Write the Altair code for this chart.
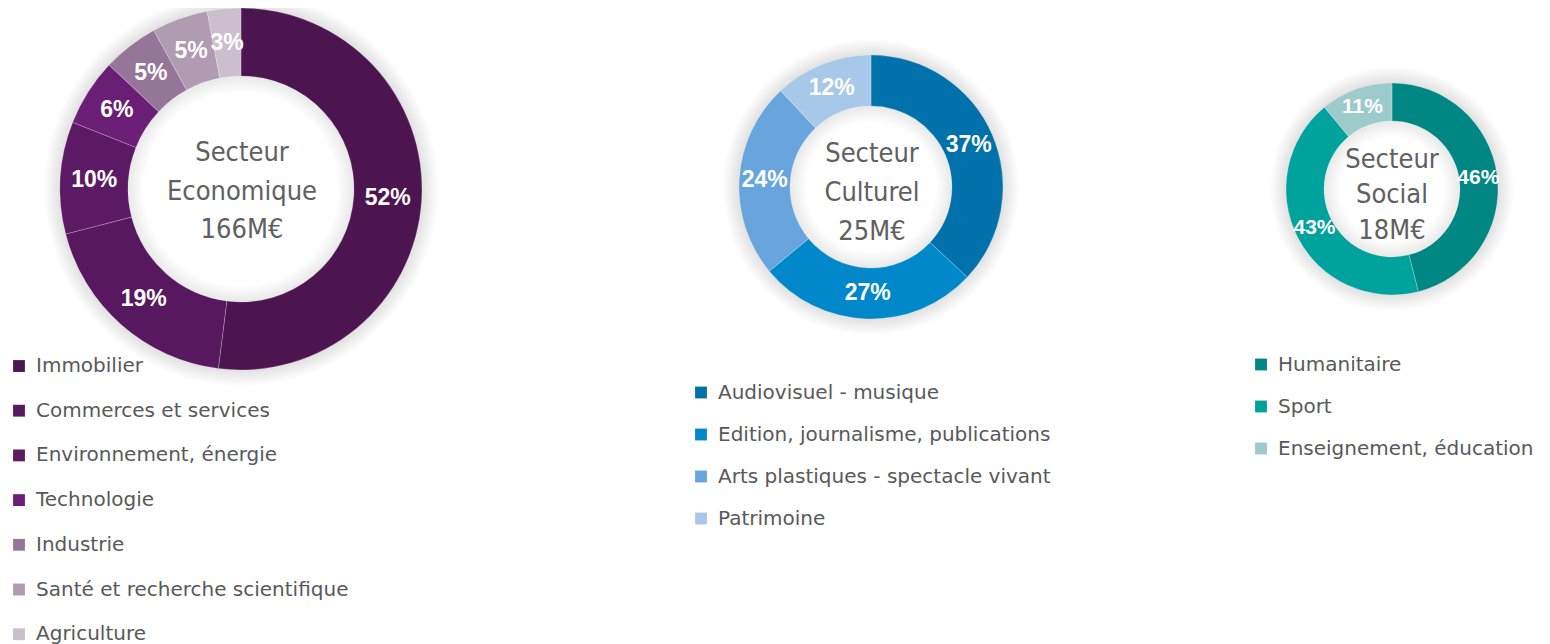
import altair as alt
import pandas as pd

# ---- data ----
eco_cats = ["Immobilier", "Commerces et services", "Environnement, énergie", "Technologie",
            "Industrie", "Santé et recherche scientifique", "Agriculture"]
eco_vals = [52, 19, 10, 6, 5, 5, 3]
eco_colors = ["#4D1550", "#58185F", "#5C1964", "#6A1E76", "#957598", "#B09BB3", "#CBBFCE"]
eco_center = ["Secteur", "Economique", "166M€"]

cul_cats = ["Audiovisuel - musique", "Edition, journalisme, publications",
            "Arts plastiques - spectacle vivant", "Patrimoine"]
cul_vals = [37, 27, 24, 12]
cul_colors = ["#0071AB", "#0088CA", "#69A5DD", "#A8C8E9"]
cul_center = ["Secteur", "Culturel", "25M€"]

soc_cats = ["Humanitaire", "Sport", "Enseignement, éducation"]
soc_vals = [46, 43, 11]
soc_colors = ["#008783", "#00A29E", "#9DCACB"]
soc_center = ["Secteur", "Social", "18M€"]

LABEL_FONT = "DejaVu Sans"
PCT_FONT = "Liberation Sans"
CENTER_FONT = "DejaVu Sans Condensed, Roboto Condensed, Roboto"
TEXT_GREY = "#595959"


def donut(cats, vals, colors, center_lines, cx, cy, r_out, r_in, pct_size,
          leg_x, leg_y, row_pad, line_h, first_line_y, center_dx):
    df = pd.DataFrame({
        "categorie": cats,
        "pct": vals,
        "ordre": list(range(len(cats))),
        "label": [f"{v}%" for v in vals],
    })
    one = pd.DataFrame({"k": [0]})
    layers = []
    # soft shadow rings
    for k in range(1, 8):
        layers.append(
            alt.Chart(one).mark_arc(innerRadius=r_out - 1, outerRadius=r_out + 2.2 * k,
                                    theta=0, theta2=6.2832, color="#000000", opacity=0.014)
            .encode(x=alt.value(cx), y=alt.value(cy))
        )
        layers.append(
            alt.Chart(one).mark_arc(innerRadius=r_in - 2.2 * k, outerRadius=r_in + 1,
                                    theta=0, theta2=6.2832, color="#000000", opacity=0.013)
            .encode(x=alt.value(cx), y=alt.value(cy))
        )
    theta = alt.Theta("pct:Q", stack=True)
    arcs = alt.Chart(df).mark_arc(
        outerRadius=r_out, innerRadius=r_in, stroke="#ffffff", strokeWidth=0.6, strokeOpacity=0.35
    ).encode(
        theta=theta,
        order=alt.Order("ordre:Q"),
        color=alt.Color(
            "categorie:N",
            sort=cats,
            scale=alt.Scale(domain=cats, range=colors),
            legend=alt.Legend(
                orient="none", legendX=leg_x, legendY=leg_y, direction="vertical",
                title=None, symbolType="square", symbolSize=140, symbolStrokeWidth=0,
                labelFont=LABEL_FONT, labelFontSize=20, labelColor=TEXT_GREY,
                labelOffset=7, rowPadding=row_pad, padding=0, labelLimit=500,
            ),
        ),
        x=alt.value(cx),
        y=alt.value(cy),
    )
    labels = alt.Chart(df).mark_text(
        radius=(r_out + r_in) / 2, font=PCT_FONT, fontWeight="bold", fontSize=pct_size,
        color="#ffffff", align="center", baseline="middle"
    ).encode(
        theta=theta,
        order=alt.Order("ordre:Q"),
        text="label:N",
        x=alt.value(cx),
        y=alt.value(cy),
    )
    center = alt.Chart(one).mark_text(
        text=center_lines, font=CENTER_FONT, fontSize=27, color="#606060",
        lineHeight=line_h, align="center", baseline="middle"
    ).encode(x=alt.value(cx + center_dx), y=alt.value(first_line_y))
    layers += [arcs, labels, center]
    return layers


layers = []
layers += donut(eco_cats, eco_vals, eco_colors, eco_center, 233, 181, 181, 113, 23,
                1, 348, 24.7, 38.5, 145, 1)
layers += donut(cul_cats, cul_vals, cul_colors, cul_center, 863, 179, 132, 81, 23,
                683, 374.5, 22, 39, 145.5, 1)
layers += donut(soc_cats, soc_vals, soc_colors, soc_center, 1384, 181, 106, 68, 21,
                1243, 346.5, 22, 35.5, 151.5, 0)

chart = alt.layer(*layers).resolve_scale(color="independent").properties(
    width=1534, height=636,
    autosize=alt.AutoSizeParams(type="none"),
    padding=0,
).configure_view(stroke=None)

chart.save("out.html", embed_options={"renderer": "svg", "actions": False})
